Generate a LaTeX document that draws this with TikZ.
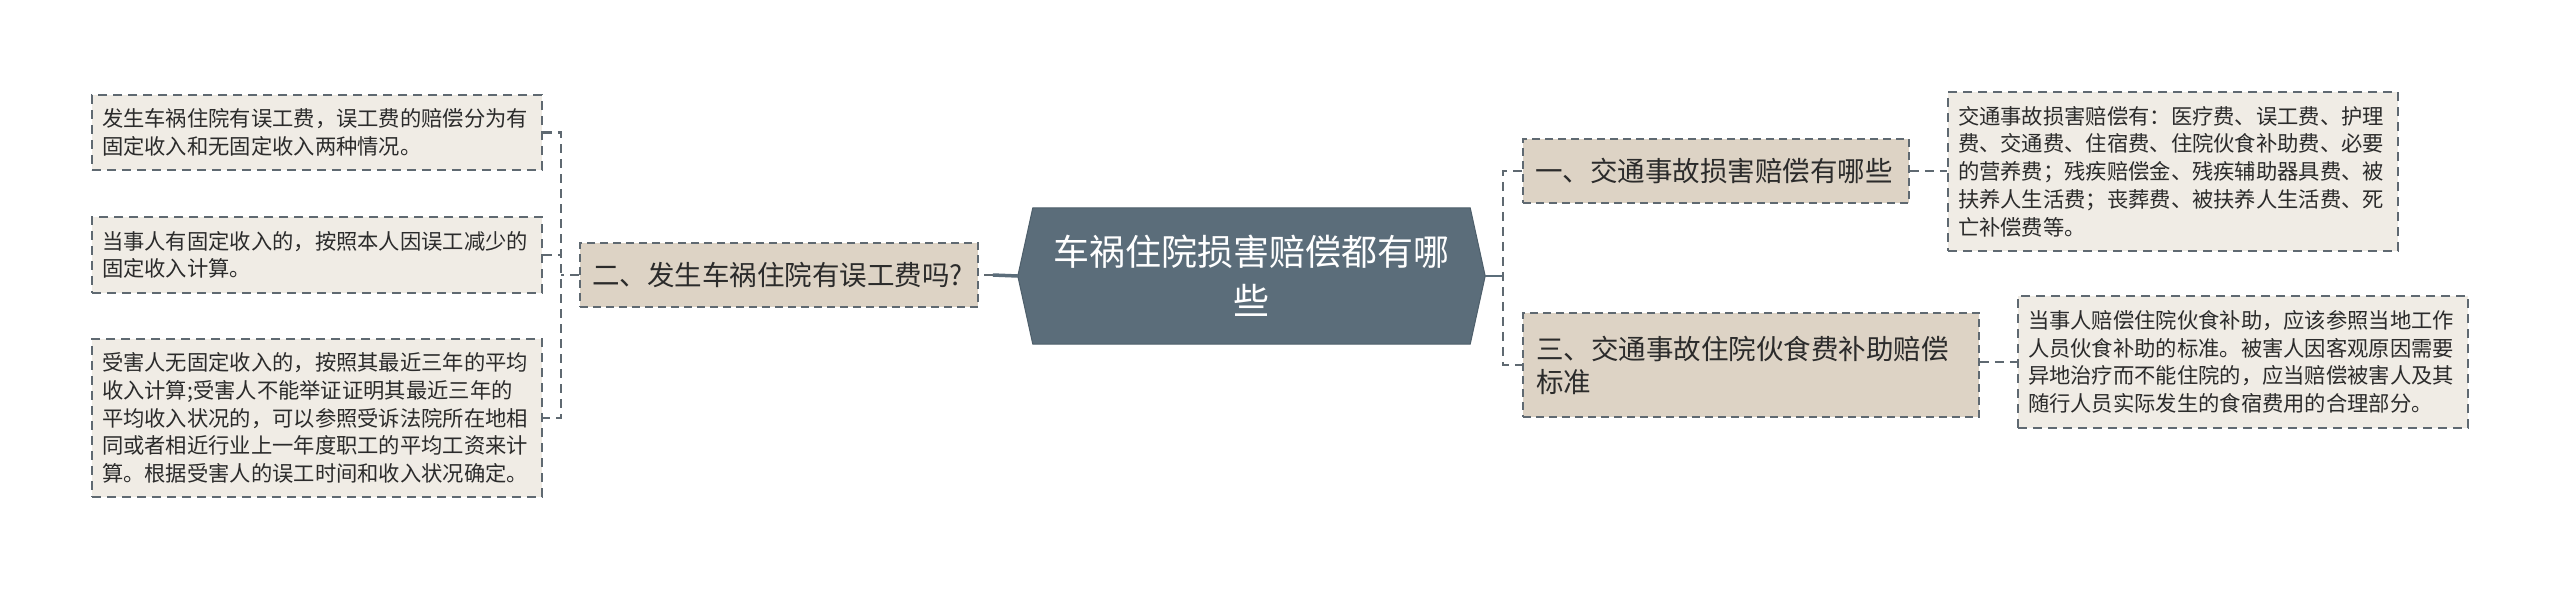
\documentclass[tikz,border=0pt]{standalone}
\usepackage{fontspec}
\setmainfont{Noto Sans CJK SC}
\usetikzlibrary{backgrounds}
\definecolor{slate}{HTML}{5B6D7A}
\definecolor{slateedge}{HTML}{4E5F6B}
\definecolor{leaffill}{HTML}{F0ECE5}
\definecolor{brfill}{HTML}{DDD3C5}
\definecolor{edge}{HTML}{5F6971}
\definecolor{txt}{HTML}{2B2B2B}
\begin{document}
\begin{tikzpicture}[x=1pt,y=-1pt,
  leaf/.style={draw=edge, fill=leaffill, line width=1.8pt, dash pattern=on 9pt off 6pt,
    text width=430pt, inner xsep=10pt, inner ysep=0pt, minimum width=450pt,
    align=left, text=txt, font=\fontsize{21.3}{27.7}\selectfont, anchor=center},
  branch/.style={draw=edge, fill=brfill, line width=1.8pt, dash pattern=on 8pt off 5pt,
    inner ysep=0pt, align=left, text=txt, font=\fontsize{27.5}{33}\selectfont, anchor=center},
  conn/.style={draw=edge, line width=2.4pt, dash pattern=on 9pt off 6pt},
  mainconn/.style={draw=slate, line width=3.5pt}
]
\useasboundingbox (0,0) rectangle (2560,590);

% center node
\node (c) [minimum width=437pt, minimum height=136pt, text width=420pt, inner sep=0pt,
  align=center, text=white, font=\fontsize{36}{49}\selectfont] at (1251.5,276)
  {车祸住院损害赔偿都有哪\\些};
\begin{scope}[on background layer]
\fill[white] (0,0) rectangle (2560,590);
\filldraw[fill=slate, draw=slateedge, line width=1pt]
  (c.north west) -- (c.north east) -- ([xshift=15pt]c.east) -- (c.south east)
  -- (c.south west) -- ([xshift=-15pt]c.west) -- cycle;
\end{scope}

% branches
\node (b2) [branch, text width=374pt, inner xsep=12pt, minimum height=64pt] at (779,275)
  {二、发生车祸住院有误工费吗?};
\node (b1) [branch, text width=362pt, inner xsep=12pt, minimum height=64pt] at (1716,171)
  {一、交通事故损害赔偿有哪些};
\node (b3) [branch, text width=430pt, inner xsep=13pt, minimum height=104pt] at (1751,365)
  {三、交通事故住院伙食费补助赔偿\\标准};

% left leaves
\node (l1) [leaf, minimum height=75pt] at (317,132.5)
  {发生车祸住院有误工费，误工费的赔偿分为有\\固定收入和无固定收入两种情况。};
\node (l2) [leaf, minimum height=76pt] at (317,255)
  {当事人有固定收入的，按照本人因误工减少的\\固定收入计算。};
\node (l3) [leaf, minimum height=158pt] at (317,418)
  {受害人无固定收入的，按照其最近三年的平均\\收入计算;受害人不能举证证明其最近三年的\\平均收入状况的，可以参照受诉法院所在地相\\同或者相近行业上一年度职工的平均工资来计\\算。根据受害人的误工时间和收入状况确定。};

% right leaves
\node (r1) [leaf, minimum height=159pt] at (2173,171.5)
  {交通事故损害赔偿有：医疗费、误工费、护理\\费、交通费、住宿费、住院伙食补助费、必要\\的营养费；残疾赔偿金、残疾辅助器具费、被\\扶养人生活费；丧葬费、被扶养人生活费、死\\亡补偿费等。};
\node (r2) [leaf, minimum height=132pt] at (2243,362)
  {当事人赔偿住院伙食补助，应该参照当地工作\\人员伙食补助的标准。被害人因客观原因需要\\异地治疗而不能住院的，应当赔偿被害人及其\\随行人员实际发生的食宿费用的合理部分。};

% connectors: center to branches
\coordinate (lb) at (561,275);
\coordinate (rb) at (1503,276);
\draw[mainconn] ([xshift=-15pt]c.west) -- ([xshift=14pt]b2.east);
\draw[conn] ([xshift=14pt]b2.east) -- (b2.east);
\draw[mainconn, line width=2.8pt] ([xshift=15pt]c.east) -- (rb);
\draw[conn] (b1.west) -- (b1.west -| rb) -- (b3.west -| rb) -- (b3.west);

% left bracket
\draw[conn] (b2.west) -- (lb);
\draw[conn] (l1.east) -- (l1.east -| lb) -- (l3.east -| lb) -- (l3.east);
\draw[conn] (l2.east) -- (l2.east -| lb);

% right leaves
\draw[conn] (b1.east) -- (r1.west |- b1.east);
\draw[conn] (b3.east |- r2.west) -- (r2.west);
\end{tikzpicture}
\end{document}
